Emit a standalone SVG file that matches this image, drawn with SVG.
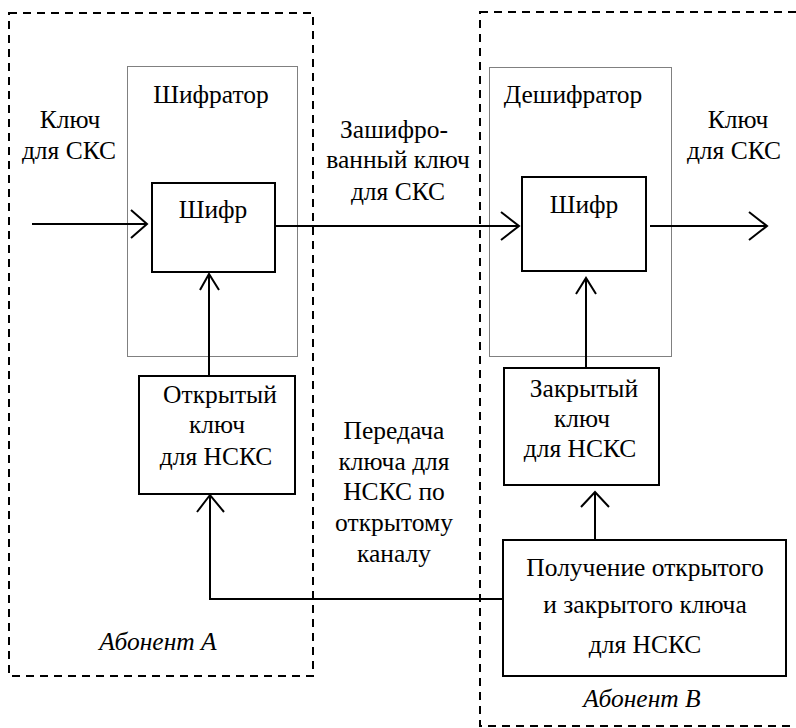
<svg xmlns="http://www.w3.org/2000/svg" width="796" height="728" viewBox="0 0 796 728" font-family="Liberation Serif, Times New Roman, DejaVu Serif, serif">
  <style>
    text { font-size: 25.5px; fill: #000; text-anchor: middle; }
    .it { font-style: italic; }
    .zone { fill: none; stroke: #000; stroke-width: 2; stroke-dasharray: 8 6; }
    .unit { fill: none; stroke: #000; stroke-width: 1; stroke-dasharray: 1 1; }
    .box { fill: #fff; stroke: #000; stroke-width: 2; }
    .wire { fill: none; stroke: #000; stroke-width: 2; }
  </style>

  <!-- subscriber zones -->
  <g id="zone-a">
    <rect class="zone" x="9" y="13" width="304" height="663"/>
    <text class="it" x="158" y="650">Абонент А</text>
  </g>
  <g id="zone-b">
    <rect class="zone" x="480" y="12" width="330" height="714"/>
    <text class="it" x="642" y="707">Абонент В</text>
  </g>

  <!-- encryptor / decryptor units -->
  <g id="encryptor">
    <rect class="unit" x="127.5" y="66.5" width="170" height="290"/>
    <text x="211" y="103">Шифратор</text>
  </g>
  <g id="decryptor">
    <rect class="unit" x="489.5" y="67.5" width="182" height="289"/>
    <text x="573" y="103">Дешифратор</text>
  </g>

  <!-- connectors -->
  <g id="connectors">
    <path class="wire" d="M32 224 H147 M131 210 L147 224 L131 238"/>
    <path class="wire" d="M275 226 H519 M501 212 L519 226 L501 240"/>
    <path class="wire" d="M650 226 H767 M749 212 L767 226 L749 240"/>
    <path class="wire" d="M209 376 V274 M200 290 L209 274 L219 290"/>
    <path class="wire" d="M586 368 V278 M576 294 L586 278 L596 294"/>
    <path class="wire" d="M595 540 V492 M581 507 L595 492 L609 507"/>
    <path class="wire" d="M503 599 H210 V495 M197 512 L210 495 L224 512"/>
  </g>

  <!-- nodes -->
  <g id="cipher-a">
    <rect class="box" x="152" y="183" width="123" height="89"/>
    <text x="213" y="218">Шифр</text>
  </g>
  <g id="cipher-b">
    <rect class="box" x="522" y="177" width="124" height="94"/>
    <text x="584" y="213">Шифр</text>
  </g>
  <g id="public-key">
    <rect class="box" x="139" y="376" width="156" height="118"/>
    <text x="220" y="403">Открытый</text>
    <text x="217" y="433">ключ</text>
    <text x="216" y="465">для НСКС</text>
  </g>
  <g id="private-key">
    <rect class="box" x="504" y="368" width="155" height="117"/>
    <text x="584" y="397">Закрытый</text>
    <text x="582" y="427">ключ</text>
    <text x="580" y="457">для НСКС</text>
  </g>
  <g id="key-generation">
    <rect class="box" x="503" y="540" width="283" height="136"/>
    <text x="645" y="576">Получение открытого</text>
    <text x="645" y="613">и закрытого ключа</text>
    <text x="645" y="653">для НСКС</text>
  </g>

  <!-- edge labels -->
  <g id="labels">
    <text x="70" y="128">Ключ</text>
    <text x="69" y="159">для СКС</text>
    <text x="394" y="138">Зашифро-</text>
    <text x="398" y="168">ванный ключ</text>
    <text x="398" y="200">для СКС</text>
    <text x="738" y="128">Ключ</text>
    <text x="734" y="159">для СКС</text>
    <text x="394" y="439">Передача</text>
    <text x="394" y="470">ключа для</text>
    <text x="394" y="500">НСКС по</text>
    <text x="394" y="531">открытому</text>
    <text x="394" y="562">каналу</text>
  </g>
</svg>
